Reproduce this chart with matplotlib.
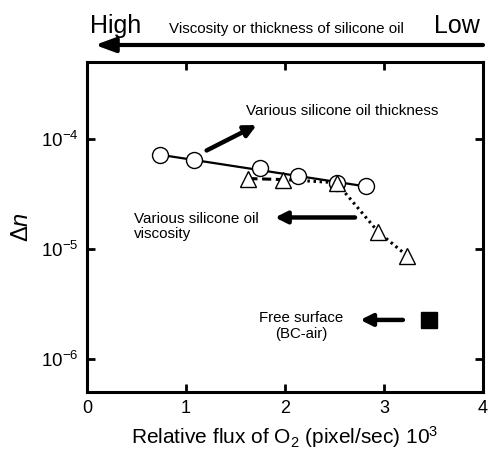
import numpy as np
import matplotlib
matplotlib.use("Agg")
import matplotlib.pyplot as plt

plt.rcParams['font.family'] = ['Liberation Sans', 'DejaVu Sans']
plt.rcParams['mathtext.fontset'] = 'custom'
plt.rcParams['mathtext.rm'] = 'Liberation Sans'
plt.rcParams['mathtext.it'] = 'Liberation Sans:italic'

# Data
thick_x = [0.74, 1.08, 1.75, 2.13, 2.52, 2.82]
thick_y = [7.1e-5, 6.4e-5, 5.4e-5, 4.57e-5, 3.98e-5, 3.71e-5]
visc_x = [1.63, 1.98, 2.52, 2.94, 3.23]
visc_y = [4.36e-5, 4.27e-5, 4.0e-5, 1.43e-5, 8.7e-6]
free_x = [3.45]
free_y = [2.26e-6]
xticks = [0, 1, 2, 3, 4]
yticks = [1e-6, 1e-5, 1e-4]
ytick_labels = [r'10$^{-6}$', r'10$^{-5}$', r'10$^{-4}$']

fig = plt.figure(figsize=(4.88, 4.54), dpi=100)
ax = fig.add_axes([0.178, 0.1366, 0.812, 0.7268])
ax.set_yscale('log')
ax.set_xlim(0, 4)
ax.set_ylim(5e-7, 5e-4)

# fit line through thickness series (log-linear)
p = np.polyfit(thick_x, np.log10(thick_y), 1)
fx = np.array([thick_x[0], thick_x[-1]])
ax.plot(fx, 10 ** np.polyval(p, fx), color='black', lw=1.6, zorder=2)

# viscosity lines
ax.plot(visc_x[:2], visc_y[:2], color='black', lw=2.2, ls=(0, (3, 1.5)), zorder=2)
ax.plot(visc_x[1:], visc_y[1:], color='black', lw=2.2, ls=(0, (0.8, 1.2)), zorder=2)

ax.plot(thick_x, thick_y, 'o', ms=11.5, mfc='white', mec='black', mew=1.0, zorder=3)
ax.plot(visc_x, visc_y, '^', ms=11, mfc='white', mec='black', mew=1.0, zorder=4)
ax.plot(free_x, free_y, 's', ms=12, mfc='black', mec='black', zorder=4)

ax.set_xticks(xticks)
ax.set_xticklabels([str(t) for t in xticks])
ax.set_yticks(yticks)
ax.set_yticklabels(ytick_labels)
ax.minorticks_off()
ax.tick_params(which='major', direction='in', length=6, width=2,
               top=True, right=True, pad=6)
ax.tick_params(axis='x', labelsize=13)
ax.tick_params(axis='y', labelsize=13.5)
for s in ax.spines.values():
    s.set_linewidth(2.2)

ax.set_xlabel(r'Relative flux of O$_2$ (pixel/sec) 10$^3$', fontsize=15, labelpad=5)
ax.set_ylabel(r'$\mathit{\Delta n}$', fontsize=17, labelpad=6)

arrow_kw = dict(arrowstyle='-|>,head_length=0.7,head_width=0.35', lw=3.2,
                color='black', shrinkA=0, shrinkB=0)
ax.annotate('', xy=(1.714, 1.335e-4), xytext=(1.209, 7.85e-5), arrowprops=arrow_kw)
ax.annotate('', xy=(1.899, 1.93e-5), xytext=(2.707, 1.93e-5), arrowprops=arrow_kw)
ax.annotate('', xy=(2.76, 2.26e-6), xytext=(3.19, 2.26e-6), arrowprops=arrow_kw)

ax.text(1.606, 1.79e-4, 'Various silicone oil thickness', fontsize=11, ha='left', va='center')
ax.text(0.475, 1.61e-5, 'Various silicone oil\nviscosity', fontsize=11, ha='left',
        va='center', linespacing=1.1)
ax.text(2.16, 2.0e-6, 'Free surface\n(BC-air)', fontsize=10.8, ha='center', va='center',
        linespacing=1.15)

# top annotation
fig.text(0.184, 0.943, 'High', fontsize=18, ha='left', va='center')
fig.text(0.984, 0.943, 'Low', fontsize=18, ha='right', va='center')
fig.text(0.587, 0.936, 'Viscosity or thickness of silicone oil', fontsize=10.9,
         ha='center', va='center')
fig.patches.append(matplotlib.patches.FancyArrowPatch(
    (483 / 488, 1 - 45 / 454), (95 / 488, 1 - 45 / 454), transform=fig.transFigure,
    arrowstyle='-|>,head_length=0.6,head_width=0.22', lw=3, color='black',
    shrinkA=0, shrinkB=0, mutation_scale=20))

fig.savefig('out.png', dpi=100)
